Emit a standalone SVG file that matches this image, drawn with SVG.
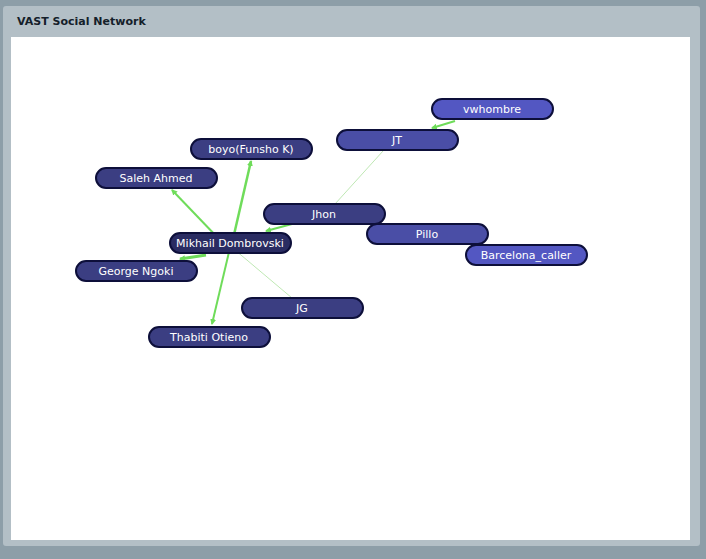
<svg xmlns="http://www.w3.org/2000/svg" width="706" height="559" viewBox="0 0 706 559">
<style>
.n rect{stroke:#0d0f3a;stroke-width:2}
.n text{font-family:"DejaVu Sans",sans-serif;font-size:11px;fill:#fff;text-anchor:middle}
.e{stroke:#6fdc5a;fill:none}
.t{stroke:#bfe8b4;stroke-width:1;fill:none}
</style>
<defs><marker id="a" markerWidth="6" markerHeight="6" refX="5" refY="3" orient="auto" markerUnits="userSpaceOnUse"><path d="M0,0L6,3L0,6z" fill="#6fdc5a"/></marker></defs>
<rect width="706" height="559" fill="#8d9ea8"/>
<rect x="3" y="6" width="697" height="540" rx="3" fill="#b3bfc6"/>
<rect x="11" y="37" width="679" height="503" fill="#fff"/>
<text x="17" y="25" font-family="DejaVu Sans,sans-serif" font-size="11" font-weight="bold" fill="#14202a">VAST Social Network</text>
<g id="edges">
<line class="t" x1="383" y1="151" x2="335" y2="204"/>
<line class="t" x1="235" y1="250" x2="292" y2="298"/>
<line class="e" stroke-width="2" x1="455" y1="121" x2="432" y2="128" marker-end="url(#a)"/>
<line class="e" stroke-width="2" x1="292" y1="224" x2="266" y2="231" marker-end="url(#a)"/>
<line class="e" stroke-width="2.5" x1="230" y1="252" x2="251" y2="161" marker-end="url(#a)"/>
<line class="e" stroke-width="2" x1="218" y1="238" x2="172" y2="190" marker-end="url(#a)"/>
<line class="e" stroke-width="3" x1="206" y1="255" x2="180" y2="259" marker-end="url(#a)"/>
<line class="e" stroke-width="2" x1="229" y1="252" x2="212" y2="324" marker-end="url(#a)"/>
</g>
<g id="vwhombre" class="n"><rect x="432" y="99" width="121" height="20" rx="10" fill="#5357c2"/><text x="492" y="113">vwhombre</text></g>
<g id="JT" class="n"><rect x="337" y="130" width="121" height="20" rx="10" fill="#4a4ea6"/><text x="397" y="144">JT</text></g>
<g id="boyo" class="n"><rect x="191" y="139" width="121" height="20" rx="10" fill="#3b3e82"/><text x="251" y="153">boyo(Funsho K)</text></g>
<g id="Saleh" class="n"><rect x="96" y="168" width="121" height="20" rx="10" fill="#3b3e82"/><text x="156" y="182">Saleh Ahmed</text></g>
<g id="Pillo" class="n"><rect x="367" y="224" width="121" height="20" rx="10" fill="#4a4ea6"/><text x="427" y="238">Pillo</text></g>
<g id="Jhon" class="n"><rect x="264" y="204" width="121" height="20" rx="10" fill="#3b3e82"/><text x="324" y="218">Jhon</text></g>
<g id="Barcelona" class="n"><rect x="466" y="245" width="121" height="20" rx="10" fill="#5357c2"/><text x="526" y="259">Barcelona_caller</text></g>
<g id="George" class="n"><rect x="76" y="261" width="121" height="20" rx="10" fill="#3b3e82"/><text x="136" y="275">George Ngoki</text></g>
<g id="Mikhail" class="n"><rect x="170" y="233" width="121" height="20" rx="10" fill="#2a2c62"/><text x="230" y="247">Mikhail Dombrovski</text></g>
<g id="JG" class="n"><rect x="242" y="298" width="121" height="20" rx="10" fill="#3b3e82"/><text x="302" y="312">JG</text></g>
<g id="Thabiti" class="n"><rect x="149" y="327" width="121" height="20" rx="10" fill="#3b3e82"/><text x="209" y="341">Thabiti Otieno</text></g>
</svg>
